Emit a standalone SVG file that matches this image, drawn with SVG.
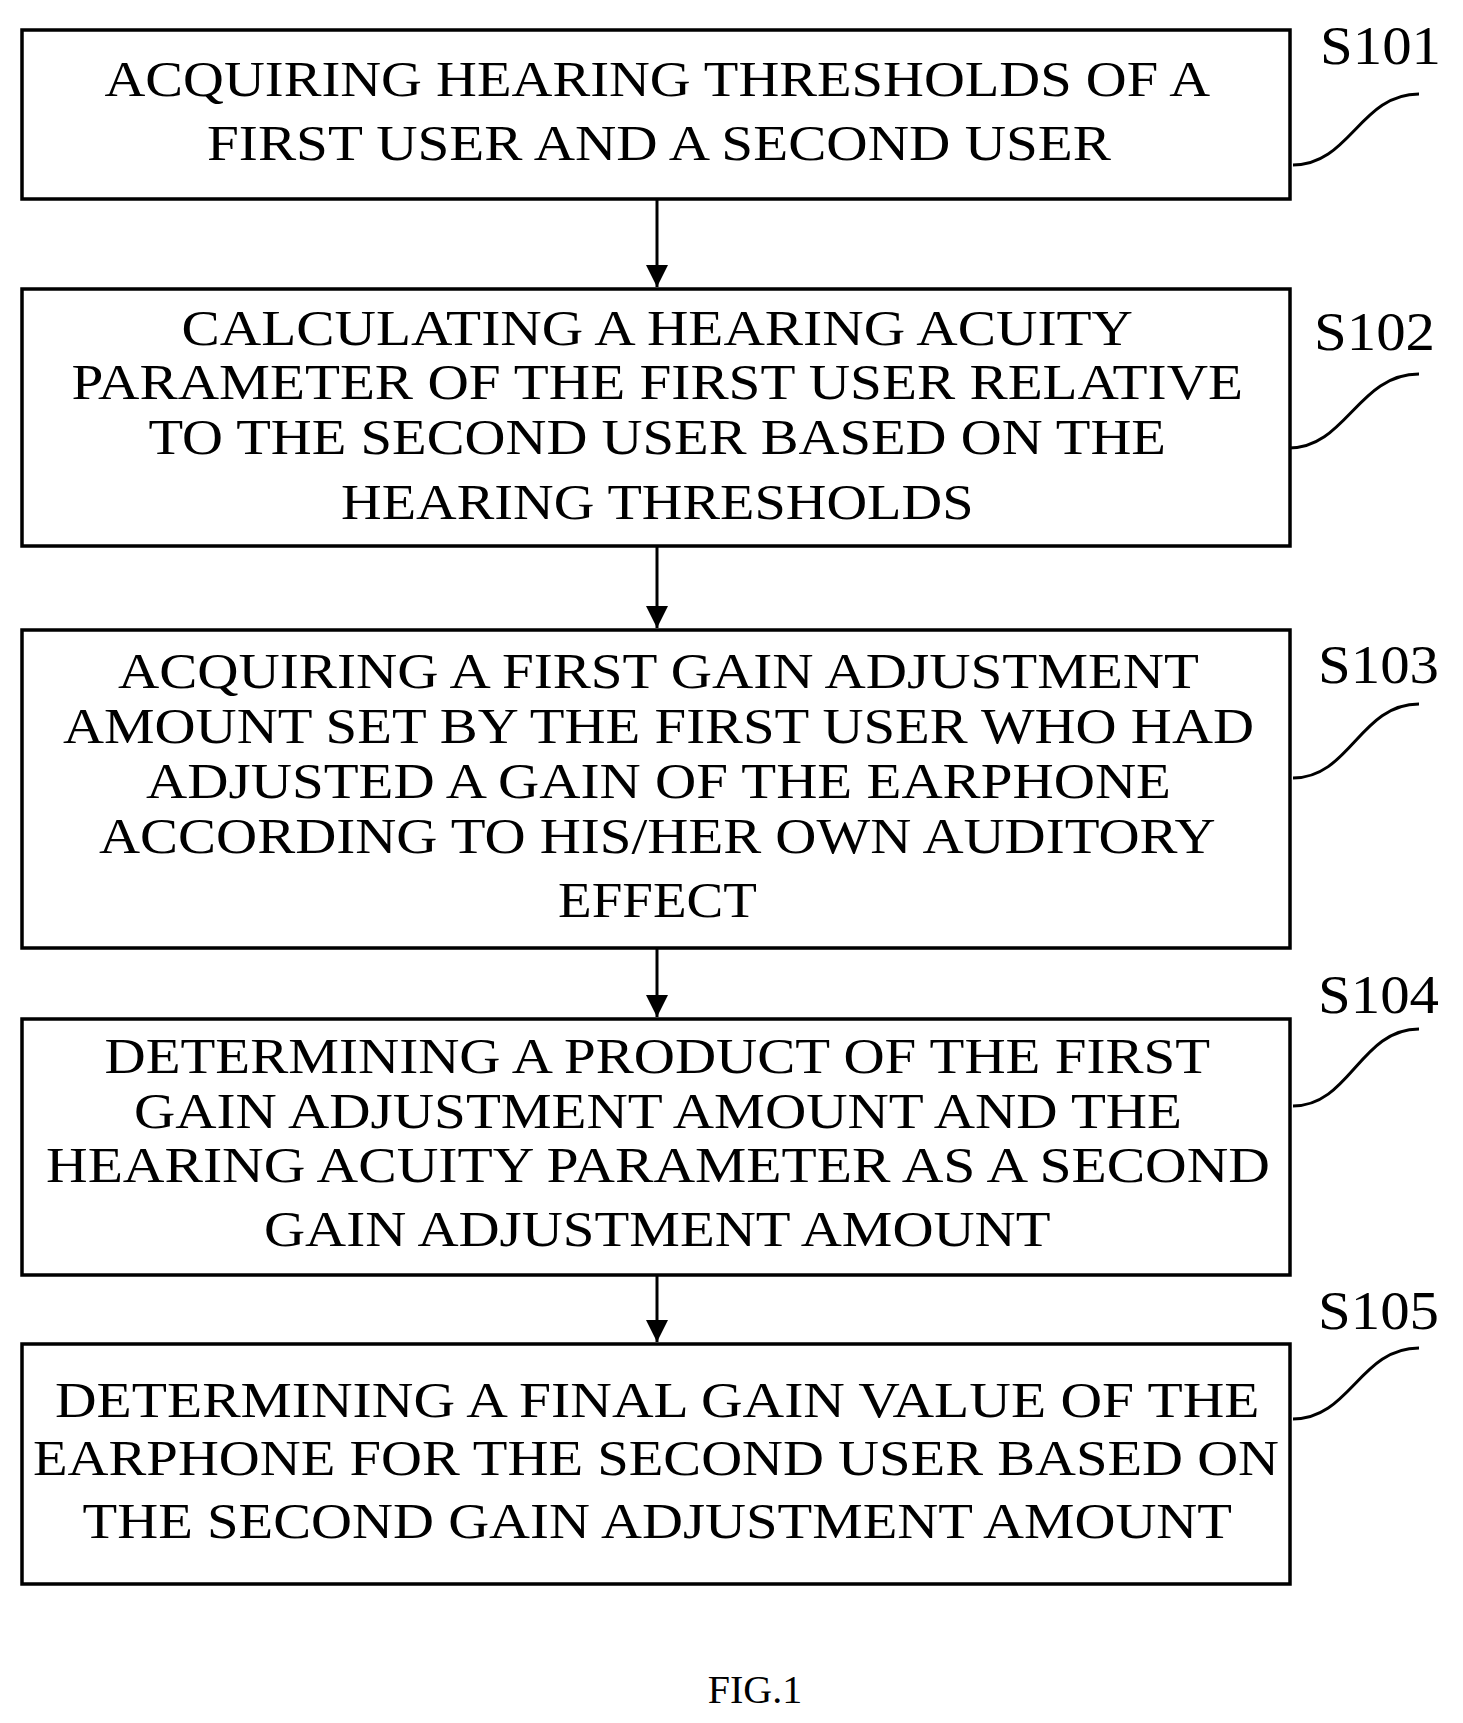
<svg xmlns="http://www.w3.org/2000/svg" width="1463" height="1723" viewBox="0 0 1463 1723">
<style>
.b{fill:#fff;stroke:#000;stroke-width:3.5}
.t{font-family:"Liberation Serif",serif;font-size:50px;fill:#000}
.l{font-family:"Liberation Serif",serif;font-size:54px;fill:#000}
.c{fill:none;stroke:#000;stroke-width:3}
</style>
<defs><marker id="a" markerWidth="10" markerHeight="10" refX="9" refY="5" orient="auto" markerUnits="userSpaceOnUse" viewBox="0 0 10 10"><path d="M0,0L10,5L0,10z"/></marker>
<marker id="ah" markerWidth="22" markerHeight="26" refX="22" refY="13" orient="auto" markerUnits="userSpaceOnUse"><path d="M0,2L22,13L0,24z"/></marker></defs>
<rect width="1463" height="1723" fill="#fff"/>
<g id="connectors">
<path class="c" d="M657,199V287" marker-end="url(#ah)"/>
<path class="c" d="M657,546V628" marker-end="url(#ah)"/>
<path class="c" d="M657,948V1017" marker-end="url(#ah)"/>
<path class="c" d="M657,1275V1342" marker-end="url(#ah)"/>
<path class="c" d="M1293,165C1350,165 1360,94 1419,94"/>
<path class="c" d="M1289,448C1346,448 1358,374 1419,374"/>
<path class="c" d="M1293,778C1350,778 1360,704 1419,704"/>
<path class="c" d="M1293,1106C1350,1106 1360,1029 1419,1029"/>
<path class="c" d="M1293,1419C1350,1419 1360,1348 1419,1348"/>
</g>
<g id="S101"><rect class="b" x="22" y="30" width="1268" height="169"/>
<text class="t" x="104.5" y="96" textLength="1105.5" lengthAdjust="spacingAndGlyphs">ACQUIRING HEARING THRESHOLDS OF A</text>
<text class="t" x="207" y="160" textLength="904" lengthAdjust="spacingAndGlyphs">FIRST USER AND A SECOND USER</text>
<text class="l" x="1320" y="64" textLength="121" lengthAdjust="spacingAndGlyphs">S101</text></g>
<g id="S102"><rect class="b" x="22" y="289" width="1268" height="257"/>
<text class="t" x="181.5" y="345" textLength="951.5" lengthAdjust="spacingAndGlyphs">CALCULATING A HEARING ACUITY</text>
<text class="t" x="71.5" y="399" textLength="1171.5" lengthAdjust="spacingAndGlyphs">PARAMETER OF THE FIRST USER RELATIVE</text>
<text class="t" x="148.5" y="454" textLength="1017.5" lengthAdjust="spacingAndGlyphs">TO THE SECOND USER BASED ON THE</text>
<text class="t" x="341" y="519" textLength="632.5" lengthAdjust="spacingAndGlyphs">HEARING THRESHOLDS</text>
<text class="l" x="1314" y="350" textLength="121" lengthAdjust="spacingAndGlyphs">S102</text></g>
<g id="S103"><rect class="b" x="22" y="630" width="1268" height="318"/>
<text class="t" x="118" y="688" textLength="1081" lengthAdjust="spacingAndGlyphs">ACQUIRING A FIRST GAIN ADJUSTMENT</text>
<text class="t" x="63" y="743" textLength="1191" lengthAdjust="spacingAndGlyphs">AMOUNT SET BY THE FIRST USER WHO HAD</text>
<text class="t" x="146" y="798" textLength="1025" lengthAdjust="spacingAndGlyphs">ADJUSTED A GAIN OF THE EARPHONE</text>
<text class="t" x="99" y="853" textLength="1116.5" lengthAdjust="spacingAndGlyphs">ACCORDING TO HIS/HER OWN AUDITORY</text>
<text class="t" x="558" y="917" textLength="199" lengthAdjust="spacingAndGlyphs">EFFECT</text>
<text class="l" x="1318" y="683" textLength="121" lengthAdjust="spacingAndGlyphs">S103</text></g>
<g id="S104"><rect class="b" x="22" y="1019" width="1268" height="256"/>
<text class="t" x="104.5" y="1073" textLength="1105.5" lengthAdjust="spacingAndGlyphs">DETERMINING A PRODUCT OF THE FIRST</text>
<text class="t" x="134" y="1128" textLength="1048" lengthAdjust="spacingAndGlyphs">GAIN ADJUSTMENT AMOUNT AND THE</text>
<text class="t" x="46" y="1182" textLength="1224" lengthAdjust="spacingAndGlyphs">HEARING ACUITY PARAMETER AS A SECOND</text>
<text class="t" x="264" y="1246" textLength="786.5" lengthAdjust="spacingAndGlyphs">GAIN ADJUSTMENT AMOUNT</text>
<text class="l" x="1318" y="1013" textLength="121" lengthAdjust="spacingAndGlyphs">S104</text></g>
<g id="S105"><rect class="b" x="22" y="1344" width="1268" height="240"/>
<text class="t" x="55" y="1417" textLength="1204.5" lengthAdjust="spacingAndGlyphs">DETERMINING A FINAL GAIN VALUE OF THE</text>
<text class="t" x="33" y="1475" textLength="1246" lengthAdjust="spacingAndGlyphs">EARPHONE FOR THE SECOND USER BASED ON</text>
<text class="t" x="82.5" y="1538" textLength="1149.5" lengthAdjust="spacingAndGlyphs">THE SECOND GAIN ADJUSTMENT AMOUNT</text>
<text class="l" x="1318" y="1329" textLength="121" lengthAdjust="spacingAndGlyphs">S105</text></g>
<text x="755" y="1703" text-anchor="middle" style="font-family:'Liberation Serif',serif;font-size:40px">FIG.1</text>
</svg>
